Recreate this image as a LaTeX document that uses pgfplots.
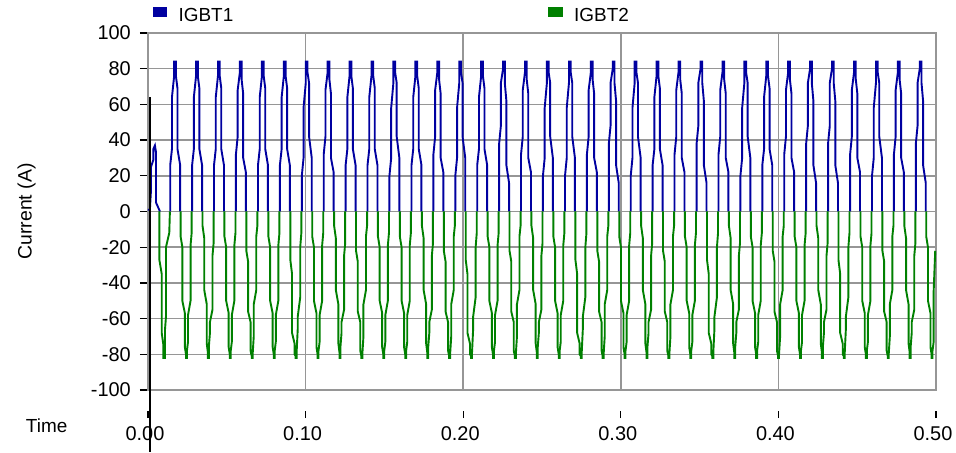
\documentclass[border=0pt]{standalone}
\usepackage{pgfplots}
\pgfplotsset{compat=1.18}
\usepackage{fontspec}
\setmainfont{Liberation Sans}
\definecolor{igbtblue}{RGB}{0,0,160}
\definecolor{igbtgreen}{RGB}{0,128,0}
\definecolor{gridgray}{RGB}{150,150,150}
\begin{document}
\begin{tikzpicture}
\path[use as bounding box] (-148bp,-63bp) rectangle (808bp,390bp);
% separate time axis (ticks and labels below the plot)
\begin{axis}[at={(0bp,-28bp)}, anchor=south west, scale only axis,
  width=788bp, height=10bp, xmin=0, xmax=0.5, ymin=0, ymax=1,
  axis line style={draw=none}, ytick=\empty,
  xtick={0,0.1,0.2,0.3,0.4,0.5},
  xticklabels={0.00,0.10,0.20,0.30,0.40,0.50},
  xtick pos=left, xtick align=inside, major tick length=7bp,
  every x tick/.append style={black, line width=1.3bp},
  xticklabel style={font=\fontsize{20}{24}\selectfont, inner sep=0pt, yshift=-8.5bp, xshift=-3bp},
  xlabel={Time},
  xlabel style={at={(axis description cs:-0.1286,-0.75)}, anchor=center, font=\fontsize{19}{22}\selectfont},
]
\end{axis}
\begin{axis}[at={(0bp,0bp)}, anchor=south west, scale only axis,
  width=788bp, height=357bp, xmin=0, xmax=0.5, ymin=-100, ymax=100,
  clip=false, unbounded coords=jump,
  xtick={0,0.1,0.2,0.3,0.4,0.5}, xticklabels={},
  every x tick/.append style={draw=none},
  ytick={-100,-80,-60,-40,-20,0,20,40,60,80,100},
  yticklabels={-100,-80,-60,-40,-20,0,20,40,60,80,100},
  ytick pos=left, ytick align=outside, major tick length=8bp,
  every y tick/.append style={black, line width=1.3bp},
  yticklabel style={font=\fontsize{20}{24}\selectfont, inner sep=0pt},
  yticklabel shift=9bp,
  grid=major, major grid style={gridgray, line width=1.5bp},
  axis line style={gridgray, line width=1.5bp},
  ylabel={Current (A)},
  ylabel style={at={(axis description cs:-0.154,0.5)}, anchor=center, font=\fontsize{19.5}{22}\selectfont},
  legend columns=2, legend cell align=left,
  legend image code/.code={\fill[#1] (0bp,-0.2bp) rectangle (12.3bp,8.2bp);},
  legend style={draw=none, fill=none, at={(axis description cs:0.006,1.0272)}, anchor=south west,
    inner sep=0pt, outer sep=0pt, row sep=0pt, font=\fontsize{19}{22}\selectfont,
    nodes={inner sep=0pt},
    /tikz/every odd column/.append style={column sep=11.7bp},
    /tikz/every even column/.append style={column sep=315bp}},
]
\addplot[igbtblue, line width=1.9bp] coordinates {
(0,1)(0.0012,1)(0.0019,12)(0.0019,25)(0.0034,29)(0.0034,35)(0.0044,37)(0.0051,33)(0.0051,5)(0.0076,0)(0.0076,nan)
(0.0141,0)(0.0141,26)(0.0152,35)(0.0152,64)(0.0166,76)(0.0166,84)(0.0177,84)(0.0177,76)(0.0187,69)(0.0187,35)(0.0204,26)(0.0204,0)(0.0204,nan)
(0.0280,0)(0.0280,26)(0.0291,35)(0.0291,64)(0.0305,76)(0.0305,84)(0.0316,84)(0.0316,76)(0.0326,69)(0.0326,35)(0.0343,26)(0.0343,0)(0.0343,nan)
(0.0419,0)(0.0419,26)(0.0430,35)(0.0430,64)(0.0444,76)(0.0444,84)(0.0455,84)(0.0455,76)(0.0465,69)(0.0465,35)(0.0482,26)(0.0482,0)(0.0482,nan)
(0.0558,0)(0.0558,32)(0.0569,42)(0.0569,68)(0.0583,78)(0.0583,84)(0.0594,84)(0.0594,74)(0.0604,66)(0.0604,30)(0.0621,22)(0.0621,0)(0.0621,nan)
(0.0698,0)(0.0698,26)(0.0709,35)(0.0709,64)(0.0723,76)(0.0723,84)(0.0734,84)(0.0734,76)(0.0744,69)(0.0744,35)(0.0761,26)(0.0761,0)(0.0761,nan)
(0.0837,0)(0.0837,26)(0.0848,35)(0.0848,64)(0.0862,76)(0.0862,84)(0.0873,84)(0.0873,76)(0.0883,69)(0.0883,35)(0.0900,26)(0.0900,0)(0.0900,nan)
(0.0976,0)(0.0976,20)(0.0987,30)(0.0987,58)(0.1001,72)(0.1001,84)(0.1012,84)(0.1012,78)(0.1022,72)(0.1022,42)(0.1039,30)(0.1039,0)(0.1039,nan)
(0.1115,0)(0.1115,32)(0.1126,42)(0.1126,68)(0.1140,78)(0.1140,84)(0.1151,84)(0.1151,74)(0.1161,66)(0.1161,30)(0.1178,22)(0.1178,0)(0.1178,nan)
(0.1254,0)(0.1254,26)(0.1265,35)(0.1265,64)(0.1279,76)(0.1279,84)(0.1290,84)(0.1290,76)(0.1300,69)(0.1300,35)(0.1317,26)(0.1317,0)(0.1317,nan)
(0.1393,0)(0.1393,26)(0.1404,35)(0.1404,64)(0.1418,76)(0.1418,84)(0.1429,84)(0.1429,76)(0.1439,69)(0.1439,35)(0.1456,26)(0.1456,0)(0.1456,nan)
(0.1532,0)(0.1532,20)(0.1543,30)(0.1543,58)(0.1557,72)(0.1557,84)(0.1568,84)(0.1568,78)(0.1578,72)(0.1578,42)(0.1595,30)(0.1595,0)(0.1595,nan)
(0.1672,0)(0.1672,26)(0.1683,35)(0.1683,64)(0.1697,76)(0.1697,84)(0.1708,84)(0.1708,76)(0.1718,69)(0.1718,35)(0.1735,26)(0.1735,0)(0.1735,nan)
(0.1811,0)(0.1811,32)(0.1822,42)(0.1822,68)(0.1836,78)(0.1836,84)(0.1847,84)(0.1847,74)(0.1857,66)(0.1857,30)(0.1874,22)(0.1874,0)(0.1874,nan)
(0.1950,0)(0.1950,20)(0.1961,30)(0.1961,58)(0.1975,72)(0.1975,84)(0.1986,84)(0.1986,78)(0.1996,72)(0.1996,42)(0.2013,30)(0.2013,0)(0.2013,nan)
(0.2089,0)(0.2089,26)(0.2100,35)(0.2100,64)(0.2114,76)(0.2114,84)(0.2125,84)(0.2125,76)(0.2135,69)(0.2135,35)(0.2152,26)(0.2152,0)(0.2152,nan)
(0.2228,0)(0.2228,38)(0.2239,48)(0.2239,72)(0.2253,80)(0.2253,84)(0.2264,84)(0.2264,72)(0.2274,62)(0.2274,26)(0.2291,16)(0.2291,0)(0.2291,nan)
(0.2367,0)(0.2367,32)(0.2378,42)(0.2378,68)(0.2392,78)(0.2392,84)(0.2403,84)(0.2403,74)(0.2413,66)(0.2413,30)(0.2430,22)(0.2430,0)(0.2430,nan)
(0.2506,0)(0.2506,20)(0.2517,30)(0.2517,58)(0.2531,72)(0.2531,84)(0.2542,84)(0.2542,78)(0.2552,72)(0.2552,42)(0.2569,30)(0.2569,0)(0.2569,nan)
(0.2646,0)(0.2646,20)(0.2657,30)(0.2657,58)(0.2671,72)(0.2671,84)(0.2682,84)(0.2682,78)(0.2692,72)(0.2692,42)(0.2709,30)(0.2709,0)(0.2709,nan)
(0.2785,0)(0.2785,32)(0.2796,42)(0.2796,68)(0.2810,78)(0.2810,84)(0.2821,84)(0.2821,74)(0.2831,66)(0.2831,30)(0.2848,22)(0.2848,0)(0.2848,nan)
(0.2924,0)(0.2924,38)(0.2935,48)(0.2935,72)(0.2949,80)(0.2949,84)(0.2960,84)(0.2960,72)(0.2970,62)(0.2970,26)(0.2987,16)(0.2987,0)(0.2987,nan)
(0.3063,0)(0.3063,20)(0.3074,30)(0.3074,58)(0.3088,72)(0.3088,84)(0.3099,84)(0.3099,78)(0.3109,72)(0.3109,42)(0.3126,30)(0.3126,0)(0.3126,nan)
(0.3202,0)(0.3202,26)(0.3213,35)(0.3213,64)(0.3227,76)(0.3227,84)(0.3238,84)(0.3238,76)(0.3248,69)(0.3248,35)(0.3265,26)(0.3265,0)(0.3265,nan)
(0.3341,0)(0.3341,32)(0.3352,42)(0.3352,68)(0.3366,78)(0.3366,84)(0.3377,84)(0.3377,74)(0.3387,66)(0.3387,30)(0.3404,22)(0.3404,0)(0.3404,nan)
(0.3481,0)(0.3481,38)(0.3492,48)(0.3492,72)(0.3506,80)(0.3506,84)(0.3517,84)(0.3517,72)(0.3527,62)(0.3527,26)(0.3544,16)(0.3544,0)(0.3544,nan)
(0.3620,0)(0.3620,32)(0.3631,42)(0.3631,68)(0.3645,78)(0.3645,84)(0.3656,84)(0.3656,74)(0.3666,66)(0.3666,30)(0.3683,22)(0.3683,0)(0.3683,nan)
(0.3759,0)(0.3759,20)(0.3770,30)(0.3770,58)(0.3784,72)(0.3784,84)(0.3795,84)(0.3795,78)(0.3805,72)(0.3805,42)(0.3822,30)(0.3822,0)(0.3822,nan)
(0.3898,0)(0.3898,26)(0.3909,35)(0.3909,64)(0.3923,76)(0.3923,84)(0.3934,84)(0.3934,76)(0.3944,69)(0.3944,35)(0.3961,26)(0.3961,0)(0.3961,nan)
(0.4037,0)(0.4037,32)(0.4048,42)(0.4048,68)(0.4062,78)(0.4062,84)(0.4073,84)(0.4073,74)(0.4083,66)(0.4083,30)(0.4100,22)(0.4100,0)(0.4100,nan)
(0.4176,0)(0.4176,38)(0.4187,48)(0.4187,72)(0.4201,80)(0.4201,84)(0.4212,84)(0.4212,72)(0.4222,62)(0.4222,26)(0.4239,16)(0.4239,0)(0.4239,nan)
(0.4315,0)(0.4315,38)(0.4326,48)(0.4326,72)(0.4340,80)(0.4340,84)(0.4351,84)(0.4351,72)(0.4361,62)(0.4361,26)(0.4378,16)(0.4378,0)(0.4378,nan)
(0.4455,0)(0.4455,32)(0.4466,42)(0.4466,68)(0.4480,78)(0.4480,84)(0.4491,84)(0.4491,74)(0.4501,66)(0.4501,30)(0.4518,22)(0.4518,0)(0.4518,nan)
(0.4594,0)(0.4594,20)(0.4605,30)(0.4605,58)(0.4619,72)(0.4619,84)(0.4630,84)(0.4630,78)(0.4640,72)(0.4640,42)(0.4657,30)(0.4657,0)(0.4657,nan)
(0.4733,0)(0.4733,32)(0.4744,42)(0.4744,68)(0.4758,78)(0.4758,84)(0.4769,84)(0.4769,74)(0.4779,66)(0.4779,30)(0.4796,22)(0.4796,0)(0.4796,nan)
(0.4872,0)(0.4872,38)(0.4883,48)(0.4883,72)(0.4897,80)(0.4897,84)(0.4908,84)(0.4908,72)(0.4918,62)(0.4918,26)(0.4935,16)(0.4935,0)
};
\addlegendentry{IGBT1}
\addplot[igbtgreen, line width=1.9bp] coordinates {
(0.0072,0)(0.0072,-27)(0.0087,-35)(0.0087,-68)(0.0098,-75)(0.0098,-82)(0.0108,-82)(0.0108,-66)(0.0114,-59)(0.0114,-20)(0.0135,-12)(0.0139,0)(0.0139,nan)
(0.0207,0)(0.0207,-14)(0.0218,-20)(0.0218,-50)(0.0234,-57)(0.0234,-76)(0.0241,-80)(0.0241,-82)(0.0247,-82)(0.0247,-78)(0.0254,-73)(0.0254,-58)(0.0270,-50)(0.0270,-19)(0.0277,-12)(0.0277,0)(0.0277,nan)
(0.0346,0)(0.0346,-8)(0.0357,-15)(0.0357,-44)(0.0373,-52)(0.0373,-74)(0.0380,-79)(0.0380,-82)(0.0386,-82)(0.0386,-76)(0.0393,-68)(0.0393,-62)(0.0409,-55)(0.0409,-25)(0.0416,-18)(0.0416,0)(0.0416,nan)
(0.0485,0)(0.0485,-14)(0.0496,-20)(0.0496,-50)(0.0512,-57)(0.0512,-76)(0.0519,-80)(0.0519,-82)(0.0525,-82)(0.0525,-78)(0.0532,-73)(0.0532,-58)(0.0548,-50)(0.0548,-19)(0.0555,-12)(0.0555,0)(0.0555,nan)
(0.0624,0)(0.0624,-22)(0.0635,-28)(0.0635,-56)(0.0651,-62)(0.0651,-78)(0.0658,-81)(0.0658,-82)(0.0664,-82)(0.0664,-80)(0.0671,-70)(0.0671,-52)(0.0687,-44)(0.0687,-14)(0.0694,-8)(0.0694,0)(0.0694,nan)
(0.0764,0)(0.0764,-14)(0.0775,-20)(0.0775,-50)(0.0791,-57)(0.0791,-76)(0.0798,-80)(0.0798,-82)(0.0804,-82)(0.0804,-78)(0.0811,-73)(0.0811,-58)(0.0827,-50)(0.0827,-19)(0.0834,-12)(0.0834,0)(0.0834,nan)
(0.0903,0)(0.0903,-27)(0.0914,-35)(0.0914,-68)(0.0930,-74)(0.0930,-80)(0.0937,-81)(0.0937,-82)(0.0943,-82)(0.0943,-79)(0.0950,-66)(0.0950,-59)(0.0966,-48)(0.0966,-20)(0.0973,-12)(0.0973,0)(0.0973,nan)
(0.1042,0)(0.1042,-14)(0.1053,-20)(0.1053,-50)(0.1069,-57)(0.1069,-76)(0.1076,-80)(0.1076,-82)(0.1082,-82)(0.1082,-78)(0.1089,-73)(0.1089,-58)(0.1105,-50)(0.1105,-19)(0.1112,-12)(0.1112,0)(0.1112,nan)
(0.1181,0)(0.1181,-8)(0.1192,-15)(0.1192,-44)(0.1208,-52)(0.1208,-74)(0.1215,-79)(0.1215,-82)(0.1221,-82)(0.1221,-76)(0.1228,-68)(0.1228,-62)(0.1244,-55)(0.1244,-25)(0.1251,-18)(0.1251,0)(0.1251,nan)
(0.1320,0)(0.1320,-22)(0.1331,-28)(0.1331,-56)(0.1347,-62)(0.1347,-78)(0.1354,-81)(0.1354,-82)(0.1360,-82)(0.1360,-80)(0.1367,-70)(0.1367,-52)(0.1383,-44)(0.1383,-14)(0.1390,-8)(0.1390,0)(0.1390,nan)
(0.1459,0)(0.1459,-14)(0.1470,-20)(0.1470,-50)(0.1486,-57)(0.1486,-76)(0.1493,-80)(0.1493,-82)(0.1499,-82)(0.1499,-78)(0.1506,-73)(0.1506,-58)(0.1522,-50)(0.1522,-19)(0.1529,-12)(0.1529,0)(0.1529,nan)
(0.1598,0)(0.1598,-14)(0.1609,-20)(0.1609,-50)(0.1625,-57)(0.1625,-76)(0.1632,-80)(0.1632,-82)(0.1638,-82)(0.1638,-78)(0.1645,-73)(0.1645,-58)(0.1661,-50)(0.1661,-19)(0.1668,-12)(0.1668,0)(0.1668,nan)
(0.1738,0)(0.1738,-8)(0.1749,-15)(0.1749,-44)(0.1765,-52)(0.1765,-74)(0.1772,-79)(0.1772,-82)(0.1778,-82)(0.1778,-76)(0.1785,-68)(0.1785,-62)(0.1801,-55)(0.1801,-25)(0.1808,-18)(0.1808,0)(0.1808,nan)
(0.1877,0)(0.1877,-22)(0.1888,-28)(0.1888,-56)(0.1904,-62)(0.1904,-78)(0.1911,-81)(0.1911,-82)(0.1917,-82)(0.1917,-80)(0.1924,-70)(0.1924,-52)(0.1940,-44)(0.1940,-14)(0.1947,-8)(0.1947,0)(0.1947,nan)
(0.2016,0)(0.2016,-27)(0.2027,-35)(0.2027,-68)(0.2043,-74)(0.2043,-80)(0.2050,-81)(0.2050,-82)(0.2056,-82)(0.2056,-79)(0.2063,-66)(0.2063,-59)(0.2079,-48)(0.2079,-20)(0.2086,-12)(0.2086,0)(0.2086,nan)
(0.2155,0)(0.2155,-14)(0.2166,-20)(0.2166,-50)(0.2182,-57)(0.2182,-76)(0.2189,-80)(0.2189,-82)(0.2195,-82)(0.2195,-78)(0.2202,-73)(0.2202,-58)(0.2218,-50)(0.2218,-19)(0.2225,-12)(0.2225,0)(0.2225,nan)
(0.2294,0)(0.2294,-22)(0.2305,-28)(0.2305,-56)(0.2321,-62)(0.2321,-78)(0.2328,-81)(0.2328,-82)(0.2334,-82)(0.2334,-80)(0.2341,-70)(0.2341,-52)(0.2357,-44)(0.2357,-14)(0.2364,-8)(0.2364,0)(0.2364,nan)
(0.2433,0)(0.2433,-8)(0.2444,-15)(0.2444,-44)(0.2460,-52)(0.2460,-74)(0.2467,-79)(0.2467,-82)(0.2473,-82)(0.2473,-76)(0.2480,-68)(0.2480,-62)(0.2496,-55)(0.2496,-25)(0.2503,-18)(0.2503,0)(0.2503,nan)
(0.2572,0)(0.2572,-14)(0.2583,-20)(0.2583,-50)(0.2599,-57)(0.2599,-76)(0.2606,-80)(0.2606,-82)(0.2612,-82)(0.2612,-78)(0.2619,-73)(0.2619,-58)(0.2635,-50)(0.2635,-19)(0.2642,-12)(0.2642,0)(0.2642,nan)
(0.2712,0)(0.2712,-27)(0.2723,-35)(0.2723,-68)(0.2739,-74)(0.2739,-80)(0.2746,-81)(0.2746,-82)(0.2752,-82)(0.2752,-79)(0.2759,-66)(0.2759,-59)(0.2775,-48)(0.2775,-20)(0.2782,-12)(0.2782,0)(0.2782,nan)
(0.2851,0)(0.2851,-22)(0.2862,-28)(0.2862,-56)(0.2878,-62)(0.2878,-78)(0.2885,-81)(0.2885,-82)(0.2891,-82)(0.2891,-80)(0.2898,-70)(0.2898,-52)(0.2914,-44)(0.2914,-14)(0.2921,-8)(0.2921,0)(0.2921,nan)
(0.2990,0)(0.2990,-14)(0.3001,-20)(0.3001,-50)(0.3017,-57)(0.3017,-76)(0.3024,-80)(0.3024,-82)(0.3030,-82)(0.3030,-78)(0.3037,-73)(0.3037,-58)(0.3053,-50)(0.3053,-19)(0.3060,-12)(0.3060,0)(0.3060,nan)
(0.3129,0)(0.3129,-8)(0.3140,-15)(0.3140,-44)(0.3156,-52)(0.3156,-74)(0.3163,-79)(0.3163,-82)(0.3169,-82)(0.3169,-76)(0.3176,-68)(0.3176,-62)(0.3192,-55)(0.3192,-25)(0.3199,-18)(0.3199,0)(0.3199,nan)
(0.3268,0)(0.3268,-22)(0.3279,-28)(0.3279,-56)(0.3295,-62)(0.3295,-78)(0.3302,-81)(0.3302,-82)(0.3308,-82)(0.3308,-80)(0.3315,-70)(0.3315,-52)(0.3331,-44)(0.3331,-14)(0.3338,-8)(0.3338,0)(0.3338,nan)
(0.3407,0)(0.3407,-14)(0.3418,-20)(0.3418,-50)(0.3434,-57)(0.3434,-76)(0.3441,-80)(0.3441,-82)(0.3447,-82)(0.3447,-78)(0.3454,-73)(0.3454,-58)(0.3470,-50)(0.3470,-19)(0.3477,-12)(0.3477,0)(0.3477,nan)
(0.3547,0)(0.3547,-27)(0.3558,-35)(0.3558,-68)(0.3574,-74)(0.3574,-80)(0.3581,-81)(0.3581,-82)(0.3587,-82)(0.3587,-79)(0.3594,-66)(0.3594,-59)(0.3610,-48)(0.3610,-20)(0.3617,-12)(0.3617,0)(0.3617,nan)
(0.3686,0)(0.3686,-8)(0.3697,-15)(0.3697,-44)(0.3713,-52)(0.3713,-74)(0.3720,-79)(0.3720,-82)(0.3726,-82)(0.3726,-76)(0.3733,-68)(0.3733,-62)(0.3749,-55)(0.3749,-25)(0.3756,-18)(0.3756,0)(0.3756,nan)
(0.3825,0)(0.3825,-14)(0.3836,-20)(0.3836,-50)(0.3852,-57)(0.3852,-76)(0.3859,-80)(0.3859,-82)(0.3865,-82)(0.3865,-78)(0.3872,-73)(0.3872,-58)(0.3888,-50)(0.3888,-19)(0.3895,-12)(0.3895,0)(0.3895,nan)
(0.3964,0)(0.3964,-22)(0.3975,-28)(0.3975,-56)(0.3991,-62)(0.3991,-78)(0.3998,-81)(0.3998,-82)(0.4004,-82)(0.4004,-80)(0.4011,-70)(0.4011,-52)(0.4027,-44)(0.4027,-14)(0.4034,-8)(0.4034,0)(0.4034,nan)
(0.4103,0)(0.4103,-14)(0.4114,-20)(0.4114,-50)(0.4130,-57)(0.4130,-76)(0.4137,-80)(0.4137,-82)(0.4143,-82)(0.4143,-78)(0.4150,-73)(0.4150,-58)(0.4166,-50)(0.4166,-19)(0.4173,-12)(0.4173,0)(0.4173,nan)
(0.4242,0)(0.4242,-8)(0.4253,-15)(0.4253,-44)(0.4269,-52)(0.4269,-74)(0.4276,-79)(0.4276,-82)(0.4282,-82)(0.4282,-76)(0.4289,-68)(0.4289,-62)(0.4305,-55)(0.4305,-25)(0.4312,-18)(0.4312,0)(0.4312,nan)
(0.4381,0)(0.4381,-27)(0.4392,-35)(0.4392,-68)(0.4408,-74)(0.4408,-80)(0.4415,-81)(0.4415,-82)(0.4421,-82)(0.4421,-79)(0.4428,-66)(0.4428,-59)(0.4444,-48)(0.4444,-20)(0.4451,-12)(0.4451,0)(0.4451,nan)
(0.4521,0)(0.4521,-14)(0.4532,-20)(0.4532,-50)(0.4548,-57)(0.4548,-76)(0.4555,-80)(0.4555,-82)(0.4561,-82)(0.4561,-78)(0.4568,-73)(0.4568,-58)(0.4584,-50)(0.4584,-19)(0.4591,-12)(0.4591,0)(0.4591,nan)
(0.4660,0)(0.4660,-22)(0.4671,-28)(0.4671,-56)(0.4687,-62)(0.4687,-78)(0.4694,-81)(0.4694,-82)(0.4700,-82)(0.4700,-80)(0.4707,-70)(0.4707,-52)(0.4723,-44)(0.4723,-14)(0.4730,-8)(0.4730,0)(0.4730,nan)
(0.4799,0)(0.4799,-8)(0.4810,-15)(0.4810,-44)(0.4826,-52)(0.4826,-74)(0.4833,-79)(0.4833,-82)(0.4839,-82)(0.4839,-76)(0.4846,-68)(0.4846,-62)(0.4862,-55)(0.4862,-25)(0.4869,-18)(0.4869,0)(0.4869,nan)
(0.4938,0)(0.4938,-14)(0.4949,-20)(0.4949,-50)(0.4965,-57)(0.4965,-76)(0.4972,-80)(0.4972,-82)(0.4978,-82)(0.4978,-78)(0.4985,-73)(0.4985,-45)(0.4995,-22)
};
\addlegendentry{IGBT2}
\addplot[black, line width=1.5bp, forget plot] coordinates {(0.0012,64)(0.0012,-135)};
\end{axis}
\end{tikzpicture}
\end{document}
